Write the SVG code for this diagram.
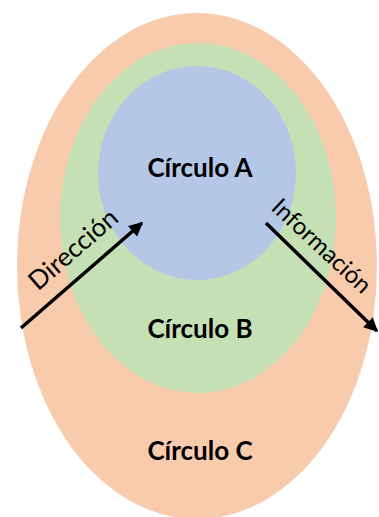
<svg xmlns="http://www.w3.org/2000/svg" width="379" height="517" viewBox="0 0 379 517">
  <defs>
    <marker id="head" viewBox="0 0 10 10" refX="9" refY="5" markerWidth="4.2" markerHeight="4" orient="auto" markerUnits="strokeWidth">
      <path d="M0,0 L10,5 L0,10 z" fill="#000"/>
    </marker>
    <style>
      .title { font-family: "Lato", "Liberation Sans", sans-serif; font-weight: bold; font-size: 26px; fill: #000; text-anchor: middle; }
      .label { font-family: "Lato", "Liberation Sans", sans-serif; font-size: 26px; fill: #000; text-anchor: middle; }
      .arrow { stroke: #000; stroke-width: 3.5; fill: none; marker-end: url(#head); }
    </style>
  </defs>
  <rect width="379" height="517" fill="#fff"/>
  <g id="circuloC">
    <ellipse cx="197" cy="266" rx="180" ry="253" fill="#F8CBAD"/>
    <text class="title" x="200" y="460">Círculo C</text>
  </g>
  <g id="circuloB">
    <ellipse cx="198" cy="218" rx="138" ry="175" fill="#C5E0B4"/>
    <text class="title" x="200" y="338">Círculo B</text>
  </g>
  <g id="circuloA">
    <ellipse cx="197" cy="173" rx="99" ry="107" fill="#B4C7E7"/>
    <text class="title" x="200" y="177">Círculo A</text>
  </g>
  <g id="connectors">
    <line class="arrow" x1="21" y1="328" x2="142" y2="223"/>
    <line class="arrow" x1="266" y1="223" x2="377" y2="331"/>
    <text class="label" transform="translate(79,256) rotate(-41)">Dirección</text>
    <text class="label" transform="translate(316,252) rotate(43)" style="font-size:24px">Información</text>
  </g>
</svg>
